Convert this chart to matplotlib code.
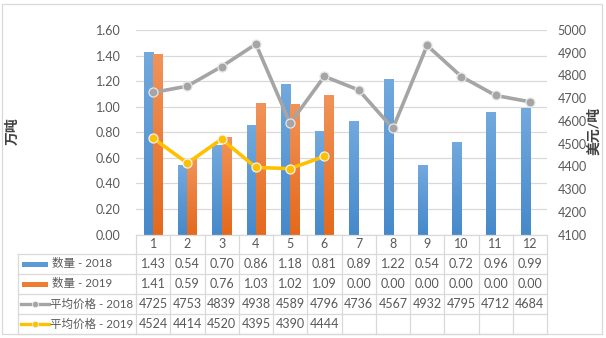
import numpy as np
import matplotlib
matplotlib.use("Agg")
import matplotlib.pyplot as plt
from matplotlib.lines import Line2D
from matplotlib.patches import Rectangle
from matplotlib.transforms import blended_transform_factory
from matplotlib.colors import to_rgb

plt.rcParams['font.family'] = ['Lato', 'Noto Sans CJK SC', 'DejaVu Sans']

# ---------------- data ----------------
months = ['1', '2', '3', '4', '5', '6', '7', '8', '9', '10', '11', '12']
qty_2018 = [1.43, 0.54, 0.70, 0.86, 1.18, 0.81, 0.89, 1.22, 0.54, 0.72, 0.96, 0.99]
qty_2019 = [1.41, 0.59, 0.76, 1.03, 1.02, 1.09, 0.00, 0.00, 0.00, 0.00, 0.00, 0.00]
price_2018 = [4725, 4753, 4839, 4938, 4589, 4796, 4736, 4567, 4932, 4795, 4712, 4684]
price_2019 = [4524, 4414, 4520, 4395, 4390, 4444, None, None, None, None, None, None]
series_names = ['数量 - 2018', '数量 - 2019', '平均价格 - 2018', '平均价格 - 2019']
left_title = '万吨'
right_title = '美元/吨'
left_ticks = [0.0, 0.2, 0.4, 0.6, 0.8, 1.0, 1.2, 1.4, 1.6]
right_ticks = [4100, 4200, 4300, 4400, 4500, 4600, 4700, 4800, 4900, 5000]

# ---------------- style ----------------
W, H = 606, 338
BLUE_TOP, BLUE_BOT = '#72A9DE', '#4689CA'
ORA_TOP, ORA_BOT = '#F19359', '#E4691C'
BLUE, ORANGE = '#5B9BD5', '#ED7D31'
GRAY, GOLD = '#A5A5A5', '#FFC000'
TXT = '#595959'
GRID = '#D9D9D9'
FS = 9


def fx(px):
    return px / W


def fy(py):
    return 1 - py / H


fig = plt.figure(figsize=(W / 100, H / 100), dpi=100)
fig.patch.set_facecolor('white')

ax_l, ax_r, ax_t, ax_b = 136, 547, 30, 234.5
ax = fig.add_axes([fx(ax_l), fy(ax_b), fx(ax_r - ax_l), (ax_b - ax_t) / H])
ax2 = ax.twinx()

x = np.arange(len(months))
bw = 0.27


def grad_bars(xs, hs, top, bot):
    c_top, c_bot = np.array(to_rgb(top)), np.array(to_rgb(bot))
    t = np.linspace(0, 1, 64)[:, None]
    img = (c_top * (1 - t) + c_bot * t)[:, None, :]
    for xc, h in zip(xs, hs):
        if h <= 0:
            continue
        ax.imshow(img, extent=[xc - bw / 2, xc + bw / 2, 0, h], origin='upper',
                  aspect='auto', zorder=2, interpolation='bilinear')


grad_bars(x - bw / 2, qty_2018, BLUE_TOP, BLUE_BOT)
grad_bars(x + bw / 2, qty_2019, ORA_TOP, ORA_BOT)

ax.set_xlim(-0.5, len(months) - 0.5)
ax.set_ylim(0, 1.6)
ax.set_yticks(left_ticks)
ax.set_yticklabels([f'{v:.2f}' for v in left_ticks])
ax.yaxis.grid(True, color=GRID, linewidth=0.9)
ax.set_axisbelow(True)
ax.set_xticks([])
for s in ax.spines.values():
    s.set_visible(False)
for s in ax2.spines.values():
    s.set_visible(False)
ax.tick_params(axis='y', length=0, pad=11, labelsize=FS, labelcolor=TXT)

p19 = np.array([np.nan if v is None else v for v in price_2019], dtype=float)
ax2.plot(x, price_2018, color=GRAY, lw=2.6, marker='o', ms=6.5,
         mfc=GRAY, mec='#E6E6E6', mew=0.9, zorder=3, solid_capstyle='round')
ax2.plot(x, p19, color=GOLD, lw=2.6, marker='o', ms=6.5,
         mfc=GOLD, mec='#F2F2F2', mew=0.9, zorder=3, solid_capstyle='round')
ax2.set_ylim(4100, 5000)
ax2.set_yticks(right_ticks)
ax2.tick_params(axis='y', length=0, pad=7.5, labelsize=FS, labelcolor=TXT)

# axis titles
fig.text(fx(12), fy(131), left_title, rotation=90, ha='center', va='center',
         fontsize=10, color='#404040', fontweight='bold')
fig.text(fx(593), fy(131), right_title, rotation=90, ha='center', va='center',
         fontsize=10, color='#404040', fontweight='bold')

# ---------------- data table ----------------
bt = blended_transform_factory(ax.transData, fig.transFigure)
row_lines = [254, 274, 294, 314, 334]
row_centers = [264, 284, 304, 324]
leg_left = 18
line_kw = dict(color=GRID, linewidth=0.9, transform=fig.transFigure)

fig.add_artist(Line2D([fx(ax_l), fx(ax_r)], [fy(ax_b), fy(ax_b)], **line_kw))
for ry in row_lines:
    fig.add_artist(Line2D([fx(leg_left), fx(ax_r)], [fy(ry), fy(ry)], **line_kw))
fig.add_artist(Line2D([fx(leg_left), fx(leg_left)], [fy(254), fy(334)], **line_kw))
for b in np.arange(len(months) + 1) - 0.5:
    fig.add_artist(Line2D([b, b], [fy(ax_b), fy(334)], color=GRID, linewidth=0.9,
                          transform=bt))

# header row (categories)
for xi, m in zip(x, months):
    ax.text(xi, fy(244.5), m, transform=bt, ha='center', va='center',
            fontsize=FS, color=TXT, clip_on=False)

rows = [
    [f'{v:.2f}' for v in qty_2018],
    [f'{v:.2f}' for v in qty_2019],
    [f'{v}' for v in price_2018],
    ['' if v is None else f'{v}' for v in price_2019],
]
for rc, vals in zip(row_centers, rows):
    for xi, s in zip(x, vals):
        ax.text(xi, fy(rc), s, transform=bt, ha='center', va='center',
                fontsize=FS, color=TXT, clip_on=False)

# legend keys
for rc, col in zip(row_centers[:2], [BLUE, ORANGE]):
    fig.add_artist(Rectangle((fx(22), fy(rc + 2.5)), fx(26), 5 / H,
                             facecolor=col, edgecolor='none',
                             transform=fig.transFigure))
for rc, col in zip(row_centers[2:], [GRAY, GOLD]):
    fig.add_artist(Line2D([fx(21), fx(49)], [fy(rc), fy(rc)], color=col, lw=2.4,
                          transform=fig.transFigure))
    fig.add_artist(Line2D([fx(35)], [fy(rc)], color=col, marker='o', ms=4.5,
                          mec='#EEEEEE', mew=0.6, transform=fig.transFigure))
for rc, name, tx in zip(row_centers, series_names, [52, 52, 50, 50]):
    fig.text(fx(tx), fy(rc), name, ha='left', va='center', fontsize=8.3,
             color=TXT)

# outer chart border
fig.add_artist(Rectangle((fx(2), fy(334)), fx(600), 330 / H, facecolor='none',
                         edgecolor=GRID, linewidth=0.9, transform=fig.transFigure))

fig.savefig('out.png', dpi=100, facecolor='white')
